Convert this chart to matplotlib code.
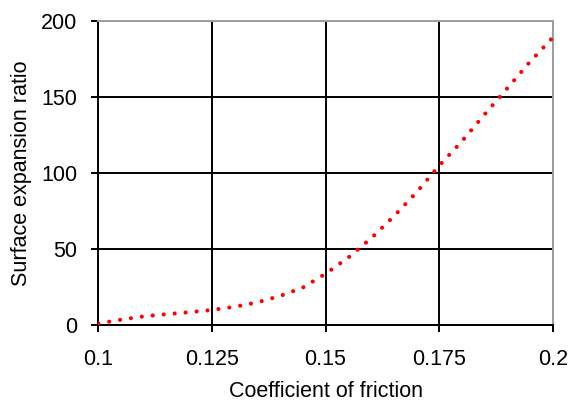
import matplotlib.pyplot as plt

plt.rcParams['font.family'] = ['Liberation Sans', 'DejaVu Sans']

# friction coefficient vs. surface expansion ratio
friction = [0.100, 0.105, 0.110, 0.115, 0.120, 0.125, 0.130, 0.135, 0.140,
            0.145, 0.150, 0.155, 0.160, 0.165, 0.170, 0.175, 0.180, 0.185,
            0.190, 0.195, 0.200]
expansion = [1.0, 3.5, 5.7, 7.1, 8.4, 9.9, 12.0, 14.9, 19.1,
             24.6, 33.7, 44.3, 56.9, 71.3, 87.1, 104.7, 120.7, 138.4,
             155.6, 173.0, 188.9]

x_ticks = [0.1, 0.125, 0.15, 0.175, 0.2]
x_labels = ['0.1', '0.125', '0.15', '0.175', '0.2']
y_ticks = [0, 50, 100, 150, 200]

fig = plt.figure(figsize=(5.71, 4.04), dpi=100)
ax = fig.add_axes([0.1722, 0.1955, 0.7958, 0.7533])

ax.plot(friction, expansion, color='#ff0000', linewidth=3.0,
        linestyle=(0, (0.01, 2.63)), dash_capstyle='round', zorder=3)

ax.set_xlim(0.1, 0.2)
ax.set_ylim(0, 200)
ax.set_xticks(x_ticks)
ax.set_xticklabels(x_labels)
ax.set_yticks(y_ticks)

ax.grid(True, color='black', linewidth=1.4)
ax.set_axisbelow(True)

for side in ['left', 'bottom']:
    ax.spines[side].set_color('black')
    ax.spines[side].set_linewidth(1.4)
for side in ['top', 'right']:
    ax.spines[side].set_color('#a0a0a0')
    ax.spines[side].set_linewidth(1.4)

ax.tick_params(axis='both', direction='out', length=5, width=1.4,
               labelsize=15.5, colors='black')
ax.tick_params(axis='x', pad=12)
ax.tick_params(axis='y', pad=10)

ax.set_xlabel('Coefficient of friction', fontsize=15.5, labelpad=8)
ax.set_ylabel('Surface expansion ratio', fontsize=15.5, labelpad=7)

fig.savefig('out.png', dpi=100)
